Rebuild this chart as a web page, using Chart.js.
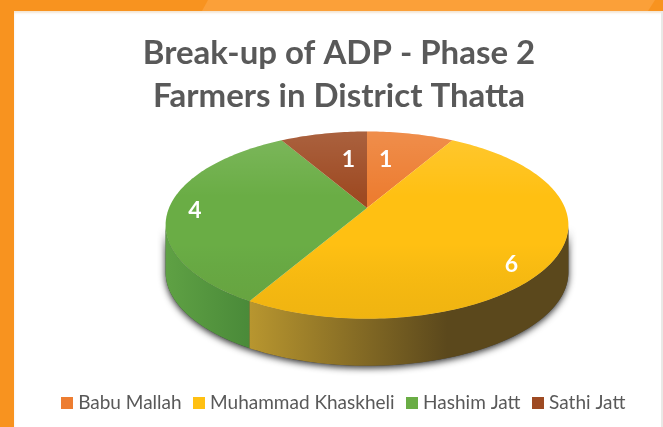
<!DOCTYPE html>
<html>
<head>
<meta charset="utf-8">
<script src="https://cdn.jsdelivr.net/npm/chart.js@4/dist/chart.umd.min.js"></script>
<style>
html,body{margin:0;padding:0;width:663px;height:427px;overflow:hidden;background:#fff}
#dark{position:absolute;left:0;top:0;width:663px;height:427px;background:#F8931F}
#light{position:absolute;left:0;top:0;width:663px;height:11px;background:#FBA039;clip-path:polygon(208px 0,655px 0,648px 11px,202px 11px)}
#panel{position:absolute;left:14px;top:11px;width:649px;height:416px;background:#fff;box-shadow:inset 0 2px 2px rgba(230,200,160,.45)}
#edge{position:absolute;left:661px;top:11px;width:2px;height:416px;background:#e9e9e6}
#wrap{position:absolute;left:0;top:0;width:678px;height:427px;filter:blur(.45px)}
canvas{display:block}
</style>
</head>
<body>
<div id="dark"></div><div id="light"></div><div id="panel"></div><div id="edge"></div>
<div id="wrap"><canvas id="c" width="678" height="427"></canvas></div>
<script>
const titleLines = ["Break-up of ADP - Phase 2", "Farmers in District Thatta"];
const categories = ["Babu Mallah", "Muhammad Khaskheli", "Hashim Jatt", "Sathi Jatt"];
const farmers = [1, 6, 4, 1];
const colors = ["#ED7D31", "#FFC012", "#6AAD45", "#9E4A22"];

const wallColors = [
  ["#8a4a20", "#8a4a20"],
  ["#B8962F", "#5B481C"],
  ["#5FA144", "#4A8A39"],
  ["#6a3015", "#6a3015"]
];
const P = {cx: 367, cy: 208, rx: 198, ry: 90.5, a: 0.183, depth: 47};
const labelPlace = [[-5, .60], [10.4, .86], [-1.7, .865], [5, .60]];
const VIS = Math.acos(-P.a);

function proj(t, r) {
  const s = Math.sin(t) * r, c = Math.cos(t) * r, w = 1 + P.a * c;
  return [P.cx + P.rx * s / w, P.cy - P.ry * c / w];
}
function tracePts(ctx, t0, t1, dy, move) {
  const n = Math.max(2, Math.ceil(Math.abs(t1 - t0) / 0.02));
  for (let i = 0; i <= n; i++) {
    const p = proj(t0 + (t1 - t0) * i / n, 1);
    if (i === 0 && move) ctx.moveTo(p[0], p[1] + dy); else ctx.lineTo(p[0], p[1] + dy);
  }
}
function wallPath(ctx, a0, a1) {
  ctx.beginPath();
  tracePts(ctx, a0, a1, 0, true);
  tracePts(ctx, a1, a0, P.depth, false);
  ctx.closePath();
}
function swatch(color) {
  const s = document.createElement('canvas');
  s.width = 12; s.height = 12;
  const x = s.getContext('2d');
  x.fillStyle = color;
  x.fillRect(0, 0, 12, 12);
  return s;
}

const piePlugin = {
  id: 'tiltedPie',
  afterLayout(chart) {
    chart.legend.left += 6;
    chart.legend.right += 6;
  },
  beforeDatasetDraw(chart, args) {
    const ctx = chart.ctx;
    const arcs = chart.getDatasetMeta(args.index).data;
    const spans = arcs.map(e => [e.startAngle + Math.PI / 2, e.endAngle + Math.PI / 2]);
    ctx.save();
    ctx.save();
    ctx.shadowColor = 'rgba(0,0,0,.85)';
    ctx.shadowBlur = 7;
    ctx.shadowOffsetY = 2;
    ctx.fillStyle = '#444';
    wallPath(ctx, VIS, 2 * Math.PI - VIS);
    ctx.fill();
    ctx.restore();
    spans.forEach((sp, i) => {
      const a0 = Math.max(sp[0], VIS), a1 = Math.min(sp[1], 2 * Math.PI - VIS);
      if (a1 <= a0) return;
      const p0 = proj(a0, 1), p1 = proj(a1, 1);
      const xl = Math.min(p0[0], p1[0]), xr = Math.max(p0[0], p1[0]);
      const g = ctx.createLinearGradient(xl, 0, xr, 0);
      const w = wallColors[i];
      if (i === 1) {
        g.addColorStop(0, w[0]); g.addColorStop(.62, w[1]); g.addColorStop(1, w[1]);
      } else {
        g.addColorStop(0, w[0]); g.addColorStop(1, w[1]);
      }
      ctx.fillStyle = g;
      wallPath(ctx, a0, a1);
      ctx.fill();
    });
    spans.forEach((sp, i) => {
      ctx.beginPath();
      ctx.moveTo(P.cx, P.cy);
      tracePts(ctx, sp[0], sp[1], 0, false);
      ctx.closePath();
      ctx.fillStyle = arcs[i].options.backgroundColor;
      ctx.fill();
      const g = ctx.createLinearGradient(0, 131, 0, 319);
      g.addColorStop(0, 'rgba(255,255,255,.13)');
      g.addColorStop(.35, 'rgba(255,255,255,0)');
      g.addColorStop(.6, 'rgba(0,0,0,0)');
      g.addColorStop(1, 'rgba(90,60,0,.09)');
      ctx.fillStyle = g;
      ctx.fill();
    });
    ctx.fillStyle = '#fff';
    ctx.font = 'bold 23px Lato';
    ctx.textAlign = 'center';
    ctx.textBaseline = 'middle';
    spans.forEach((sp, i) => {
      const mid = (sp[0] + sp[1]) / 2 + labelPlace[i][0] * Math.PI / 180;
      const p = proj(mid, labelPlace[i][1]);
      ctx.fillText(String(farmers[i]), p[0], p[1]);
    });
    ctx.restore();
    return false;
  }
};

new Chart(document.getElementById('c'), {
  type: 'pie',
  data: {
    labels: categories,
    datasets: [{data: farmers, backgroundColor: colors, borderWidth: 0}]
  },
  plugins: [piePlugin],
  options: {
    responsive: false,
    animation: false,
    layout: {padding: {top: 32, bottom: 5}},
    plugins: {
      tooltip: {enabled: false},
      title: {
        display: true,
        text: titleLines,
        color: '#595959',
        font: {family: 'Lato', size: 33, weight: 'bold', lineHeight: 1.3},
        padding: {top: 0, bottom: 6}
      },
      legend: {
        position: 'bottom',
        labels: {
          usePointStyle: true,
          boxWidth: 4,
          boxHeight: 12,
          color: '#595959',
          padding: 15,
          font: {family: 'Lato', size: 19},
          generateLabels(chart) {
            const items = Chart.overrides.pie.plugins.legend.labels.generateLabels(chart);
            items.forEach((it, i) => { it.pointStyle = swatch(colors[i]); });
            return items;
          }
        }
      }
    }
  }
});
</script>
</body>
</html>
